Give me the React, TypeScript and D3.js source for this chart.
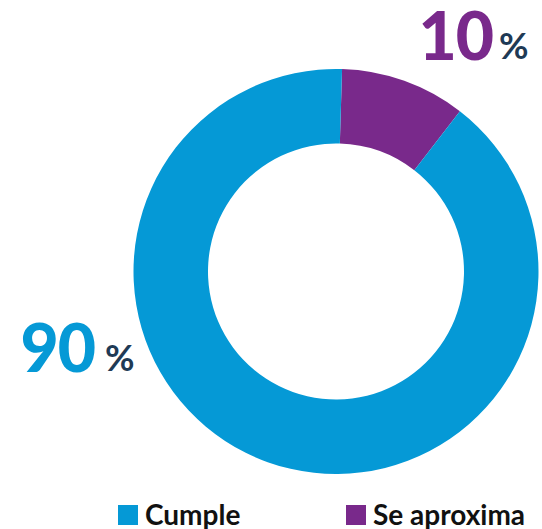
import { useMemo } from 'react'
import { arc, pie, PieArcDatum } from 'd3'

// Donut: Cumple vs Se aproxima, big percentage labels and a legend underneath.

const categories = ['Cumple', 'Se aproxima']
const values = [90, 10]
const colors = ['#0599d6', '#79298b']

const W = 542
const H = 529
const CX = 336
const CY = 271.5
const R_OUT = 202.5
const R_IN = 128
const START = 0.03 // slight rotation seen in the reference

const FONT = 'Lato, "Noto Sans", sans-serif'
const NAVY = '#1f3a55'

// where each big label ends (x, baseline) — in the order of categories
const labelPos = [
  { x: 95, y: 372, pctX: 105, pctY: 371 },
  { x: 493, y: 60, pctX: 499, pctY: 59 },
]

const legendPos = [
  { x: 118, y: 505 },
  { x: 346, y: 505 },
]

type Slice = { name: string; value: number; color: string }

export default function App() {
  const data: Slice[] = categories.map((name, i) => ({ name, value: values[i], color: colors[i] }))

  // the small slice starts at 12 o'clock, going clockwise
  const arcs = useMemo(
    () =>
      pie<Slice>()
        .value((d) => d.value)
        .sort(null)
        .startAngle(START)
        .endAngle(START + Math.PI * 2)([...data].reverse()),
    [],
  )
  const arcGen = arc<PieArcDatum<Slice>>().innerRadius(R_IN).outerRadius(R_OUT)

  return (
    <svg
      width={W}
      height={H}
      viewBox={`0 0 ${W} ${H}`}
      style={{ position: 'absolute', left: 0, top: 0, background: '#fff' }}
    >
      <g transform={`translate(${CX}, ${CY})`}>
        {arcs.map((a) => (
          <path key={a.data.name} d={arcGen(a) ?? ''} fill={a.data.color} />
        ))}
      </g>

      {data.map((d, i) => (
        <g key={`lbl-${d.name}`}>
          <text
            x={labelPos[i].x}
            y={labelPos[i].y}
            textAnchor="end"
            fontFamily={FONT}
            fontWeight={900}
            fontSize={66}
            letterSpacing={-1}
            fill={d.color}
          >
            {d.value}
          </text>
          <text
            x={labelPos[i].pctX}
            y={labelPos[i].pctY}
            fontFamily={FONT}
            fontWeight={700}
            fontSize={36}
            fill={NAVY}
          >
            %
          </text>
        </g>
      ))}

      {data.map((d, i) => (
        <g key={`leg-${d.name}`} transform={`translate(${legendPos[i].x}, ${legendPos[i].y})`}>
          <rect x={0} y={0} width={20} height={20} fill={d.color} />
          <text x={27} y={19.5} fontFamily={FONT} fontWeight={700} fontSize={28} fill="#111">
            {d.name}
          </text>
        </g>
      ))}
    </svg>
  )
}
